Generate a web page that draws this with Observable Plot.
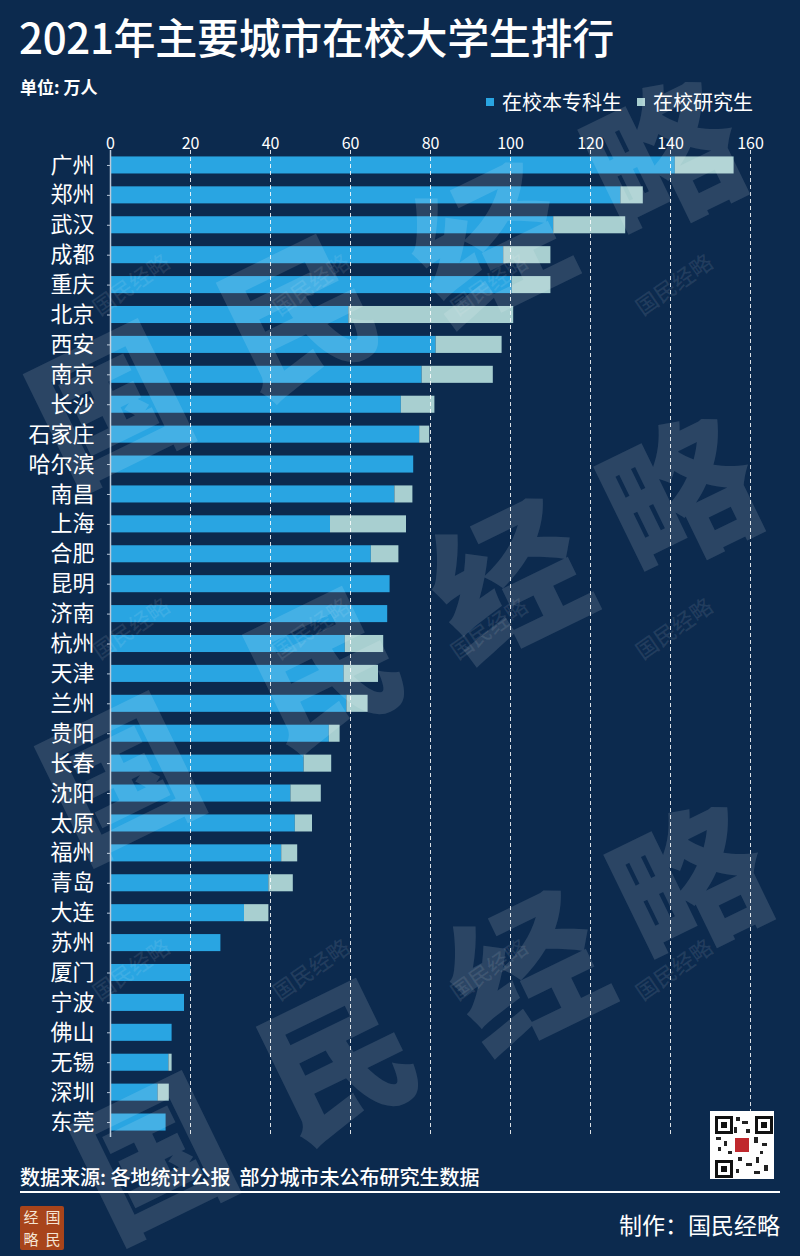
<!DOCTYPE html>
<html>
<head>
<meta charset="utf-8">
<script src="https://cdn.jsdelivr.net/npm/d3@7"></script>
<script src="https://cdn.jsdelivr.net/npm/@observablehq/plot@0.6"></script>
<style>
  html, body { margin: 0; padding: 0; background: #0c2a4e; }
  #page { position: relative; width: 800px; height: 1256px; overflow: hidden; background: #0c2a4e; color: #fff; font-family: "Noto Sans CJK SC", "Noto Sans", sans-serif; }
  .abs { position: absolute; white-space: nowrap; line-height: 1; }
  #title { left: 19px; top: 15px; font-size: 42px; font-weight: 500; letter-spacing: -0.3px; }
  #unit { left: 20px; top: 78px; font-size: 17px; font-weight: 700; }
  #legend { left: 486px; top: 92px; font-size: 20px; display: flex; align-items: center; }
  #legend .sw { width: 8px; height: 8px; display: inline-block; margin-right: 8px; }
  #legend .item { display: flex; align-items: center; margin-right: 15px; }
  #chart { position: absolute; left: 0; top: 120px; }
  #source { left: 20px; top: 1167px; font-size: 20px; font-weight: 500; }
  #rule { position: absolute; left: 20px; top: 1191px; width: 760px; height: 2px; background: #fff; }
  #logo { position: absolute; left: 20px; top: 1206px; width: 44px; height: 44px; background: #a8441b; border-radius: 2px; display: grid; grid-template-columns: 22px 22px; grid-template-rows: 22px 22px; font-size: 15px; color: #f4e4d4; text-align: center; line-height: 22px; }
  #maker { right: 20px; top: 1213px; font-size: 23px; }
  #qr { position: absolute; left: 710px; top: 1111px; width: 64px; height: 68px; background: #fff; }
  #qr .f { position: absolute; width: 12px; height: 12px; border: 3px solid #111; box-sizing: content-box; }
  #qr .f::after { content: ""; position: absolute; left: 3px; top: 3px; width: 6px; height: 6px; background: #111; }
  #qr .c { position: absolute; left: 25px; top: 27px; width: 14px; height: 14px; background: #c0282d; }
  #qr .d { position: absolute; background: #222; }
  #wm { position: absolute; left: 0; top: 0; width: 800px; height: 1256px; pointer-events: none; overflow: hidden; }
  .big { position: absolute; font-size: 150px; font-weight: 900; color: rgba(255,255,255,0.13); line-height: 1; transform: translate(-50%, -50%) rotate(-26deg); }
  .small { position: absolute; font-size: 22px; font-weight: 500; color: rgba(255,255,255,0.09); line-height: 1; transform: translate(-50%, -50%) rotate(-35deg); white-space: nowrap; }
</style>
</head>
<body>
<div id="page">
  <div id="title" class="abs"></div>
  <div id="unit" class="abs"></div>
  <div id="legend" class="abs"></div>
  <div id="chart"></div>
  <div id="qr"></div>
  <div id="source" class="abs"></div>
  <div id="rule"></div>
  <div id="logo"></div>
  <div id="maker" class="abs"></div>
  <div id="wm"></div>
</div>
<script>
// ---- data ----
const titleText = "2021年主要城市在校大学生排行";
const unitText = "单位: 万人";
const sourceText = "数据来源: 各地统计公报\u00a0\u00a0部分城市未公布研究生数据";
const makerText = "制作：国民经略";
const seriesNames = ["在校本专科生", "在校研究生"];
const seriesColors = ["#29a5e2", "#a8cfd0"];
const xTicks = [0, 20, 40, 60, 80, 100, 120, 140, 160];

const cities = ["广州","郑州","武汉","成都","重庆","北京","西安","南京","长沙","石家庄","哈尔滨","南昌","上海","合肥","昆明","济南","杭州","天津","兰州","贵阳","长春","沈阳","太原","福州","青岛","大连","苏州","厦门","宁波","佛山","无锡","深圳","东莞"];
const undergrad = [141.2,127.6,110.8,98.3,100.4,59.6,81.4,77.9,72.7,77.3,75.8,71.1,55.0,65.2,69.9,69.3,58.7,58.4,59.1,54.7,48.4,45.1,46.2,42.8,39.6,33.5,27.6,20.1,18.5,15.4,14.6,11.9,13.9];
const postgrad  = [14.7,5.6,18.0,11.8,9.7,41.2,16.5,17.8,8.4,2.5,0,4.5,19.0,6.9,0,0,9.6,8.6,5.3,2.7,6.9,7.6,4.3,4.0,6.1,6.1,0,0,0,0,0.8,2.8,0];

// ---- texts ----
document.getElementById("title").textContent = titleText;
document.getElementById("unit").textContent = unitText;
document.getElementById("source").textContent = sourceText;
document.getElementById("maker").textContent = makerText;

const legend = document.getElementById("legend");
seriesNames.forEach((name, i) => {
  const item = document.createElement("span");
  item.className = "item";
  const sw = document.createElement("span");
  sw.className = "sw";
  sw.style.background = seriesColors[i];
  const t = document.createElement("span");
  t.textContent = name;
  item.appendChild(sw); item.appendChild(t);
  legend.appendChild(item);
});

const logo = document.getElementById("logo");
["经","国","略","民"].forEach(ch => { const s = document.createElement("span"); s.textContent = ch; logo.appendChild(s); });

// qr decoration
const qr = document.getElementById("qr");
[[5,5],[45,5],[5,49]].forEach(([l,t]) => { const f = document.createElement("div"); f.className = "f"; f.style.left = l+"px"; f.style.top = t+"px"; qr.appendChild(f); });
const dots = [[26,6,4,4],[32,10,6,3],[24,16,3,6],[36,18,4,4],[6,26,5,3],[14,30,3,5],[44,26,4,6],[52,32,5,3],[28,46,4,4],[36,52,6,3],[46,46,3,6],[54,54,4,6],[44,60,6,3],[26,58,3,4],[18,40,4,3],[8,36,3,4],[50,40,3,3]];
dots.forEach(([l,t,w,h]) => { const d = document.createElement("div"); d.className = "d"; Object.assign(d.style, {left:l+"px", top:t+"px", width:w+"px", height:h+"px"}); qr.appendChild(d); });
const c = document.createElement("div"); c.className = "c"; qr.appendChild(c);

// ---- chart ----
const rows = cities.flatMap((city, i) => [
  {city, series: seriesNames[0], value: undergrad[i]},
  {city, series: seriesNames[1], value: postgrad[i]}
]);

const chart = Plot.plot({
  width: 800,
  height: 1021,
  marginLeft: 110,
  marginRight: 50,
  marginTop: 30,
  marginBottom: 4,
  style: {background: "transparent", color: "#ffffff", fontFamily: "'Noto Sans CJK SC', sans-serif", overflow: "visible"},
  x: {domain: [0, 160], axis: null},
  y: {domain: cities, axis: null, paddingInner: 0.43, paddingOuter: 0.215, round: false},
  color: {domain: seriesNames, range: seriesColors},
  marks: [
    Plot.barX(rows, Plot.stackX({x: "value", y: "city", fill: "series"})),
    Plot.ruleX(xTicks.slice(1), {stroke: "#ffffff", strokeDasharray: "4,3", strokeOpacity: 0.85, strokeWidth: 1}),
    Plot.ruleX([0], {stroke: "#b9c9da", strokeWidth: 1.5}),
    Plot.axisX(xTicks, {anchor: "top", tickSize: 0, tickPadding: 2, fontSize: 16, label: null, fill: "#ffffff"}),
    Plot.axisY({anchor: "left", tickSize: 3, tickPadding: 13, fontSize: 22, label: null, fill: "#ffffff", stroke: "#b9c9da"})
  ]
});
document.getElementById("chart").appendChild(chart);

// ---- watermarks ----
const wm = document.getElementById("wm");
const wmChars = ["国","民","经","略"];
const bigLines = [
  [[106,398],[294,308],[485,236],[660,150]],
  [[117,770],[320,660],[505,572],[676,487]],
  [[150,1150],[334,1052],[523,964],[686,875]]
];
bigLines.forEach(line => line.forEach(([x,y], i) => {
  const s = document.createElement("div"); s.className = "big"; s.textContent = wmChars[i];
  s.style.left = x + "px"; s.style.top = y + "px"; wm.appendChild(s);
}));
[283, 627, 968].forEach(y => [130, 310, 488, 673].forEach(x => {
  const s = document.createElement("div"); s.className = "small"; s.textContent = "国民经略";
  s.style.left = x + "px"; s.style.top = y + "px"; wm.appendChild(s);
}));
</script>
</body>
</html>
